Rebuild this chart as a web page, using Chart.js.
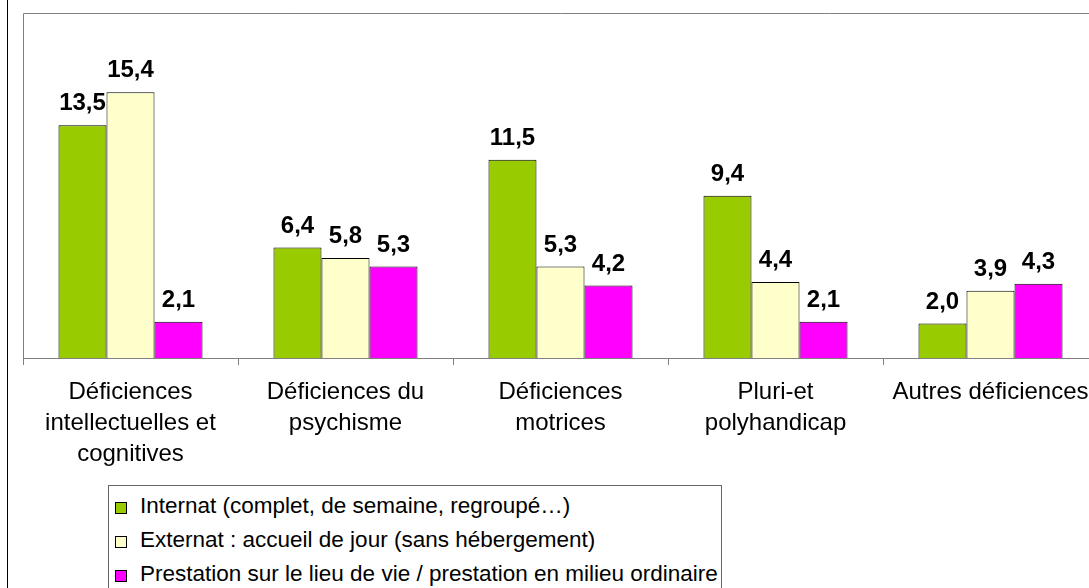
<!DOCTYPE html>
<html lang="fr">
<head>
<meta charset="utf-8">
<title>Déficiences par mode d'accueil</title>
<script src="https://cdn.jsdelivr.net/npm/chart.js@4/dist/chart.umd.min.js"></script>
<style>
  html, body {
    margin: 0;
    padding: 0;
    background: #fff;
    overflow: hidden;
  }
  #wrap {
    position: relative;
    width: 1089px;
    height: 588px;
    overflow: hidden;
  }
  #chart {
    position: absolute;
    left: 0;
    top: 0;
  }
  #legend {
    position: absolute;
    left: 108px;
    top: 485px;
    width: 614px;
    height: 130px;
    border: 1px solid #666;
    background: #fff;
    font-family: 'Liberation Sans', Arial, sans-serif;
    font-size: 22.5px;
    color: #000;
    box-sizing: border-box;
    padding-top: 3px;
  }
  #legend .item {
    height: 34px;
    line-height: 34px;
    white-space: nowrap;
  }
  #legend .box {
    display: inline-block;
    width: 10px;
    height: 10px;
    border: 1px solid #000;
    margin-left: 6px;
    margin-right: 13px;
    vertical-align: -1px;
  }
</style>
</head>
<body>
<div id="wrap">
  <canvas id="chart" width="1120" height="588"></canvas>
  <div id="legend"></div>
</div>
<script>
const categories = [
  ['Déficiences', 'intellectuelles et', 'cognitives'],
  ['Déficiences du', 'psychisme'],
  ['Déficiences', 'motrices'],
  ['Pluri-et', 'polyhandicap'],
  ['Autres déficiences'],
];

const seriesNames = [
  'Internat (complet, de semaine, regroupé…)',
  'Externat : accueil de jour (sans hébergement)',
  'Prestation sur le lieu de vie / prestation en milieu ordinaire',
];

const internat = [13.5, 6.4, 11.5, 9.4, 2.0];
const externat = [15.4, 5.8, 5.3, 4.4, 3.9];
const prestation = [2.1, 5.3, 4.2, 2.1, 4.3];

const seriesColors = ['#99cc00', '#ffffcc', '#ff00ff'];

const FONT = "'Liberation Sans', Arial, sans-serif";

// bordures façon Excel : cadre gris de la zone de tracé + trait noir du graphique
const frameBorders = {
  id: 'frameBorders',
  beforeDraw(chart) {
    const { ctx, chartArea: { left, top, right, bottom } } = chart;
    ctx.save();
    ctx.fillStyle = '#fff';
    ctx.fillRect(0, 0, chart.width, chart.height);
    ctx.strokeStyle = '#000';
    ctx.lineWidth = 1;
    ctx.beginPath();
    ctx.moveTo(7.5, 0);
    ctx.lineTo(7.5, chart.height);
    ctx.stroke();
    ctx.strokeStyle = '#808080';
    ctx.beginPath();
    ctx.moveTo(left + 0.5, bottom);
    ctx.lineTo(left + 0.5, top + 0.5);
    ctx.lineTo(right, top + 0.5);
    ctx.stroke();
    ctx.restore();
  },
};

const valueLabels = {
  id: 'valueLabels',
  afterDatasetsDraw(chart) {
    const { ctx } = chart;
    ctx.save();
    ctx.font = 'bold 24px ' + FONT;
    ctx.fillStyle = '#000';
    ctx.textAlign = 'center';
    ctx.textBaseline = 'alphabetic';
    chart.data.datasets.forEach((ds, i) => {
      chart.getDatasetMeta(i).data.forEach((bar, j) => {
        const txt = ds.data[j].toFixed(1).replace('.', ',');
        ctx.fillText(txt, bar.x, bar.y - 15);
      });
    });
    ctx.restore();
  },
};

const datasets = [internat, externat, prestation].map((values, i) => ({
  label: seriesNames[i],
  data: values,
  backgroundColor: seriesColors[i],
  borderColor: '#000',
  borderWidth: 1,
  borderSkipped: 'bottom',
  barPercentage: 1,
  categoryPercentage: 0.67,
}));

new Chart(document.getElementById('chart'), {
  type: 'bar',
  data: {
    labels: categories,
    datasets: datasets,
  },
  options: {
    responsive: false,
    animation: false,
    layout: {
      padding: { left: 23, top: 13, right: 22, bottom: 0 },
    },
    scales: {
      x: {
        afterFit: (scale) => {
          scale.height = 230;
        },
        grid: {
          drawOnChartArea: false,
          drawTicks: true,
          tickLength: 7,
          color: '#808080',
        },
        border: {
          color: '#808080',
        },
        ticks: {
          color: '#000',
          padding: 12,
          maxRotation: 0,
          autoSkip: false,
          font: {
            size: 24,
            family: FONT,
            lineHeight: '31px',
          },
        },
      },
      y: {
        display: false,
        min: 0,
        max: 20,
      },
    },
    plugins: {
      legend: { display: false },
      tooltip: { enabled: false },
    },
  },
  plugins: [frameBorders, valueLabels],
});

const legendEl = document.getElementById('legend');
seriesNames.forEach((name, i) => {
  const row = document.createElement('div');
  row.className = 'item';
  const box = document.createElement('span');
  box.className = 'box';
  box.style.background = seriesColors[i];
  row.appendChild(box);
  row.appendChild(document.createTextNode(name));
  legendEl.appendChild(row);
});
</script>
</body>
</html>
